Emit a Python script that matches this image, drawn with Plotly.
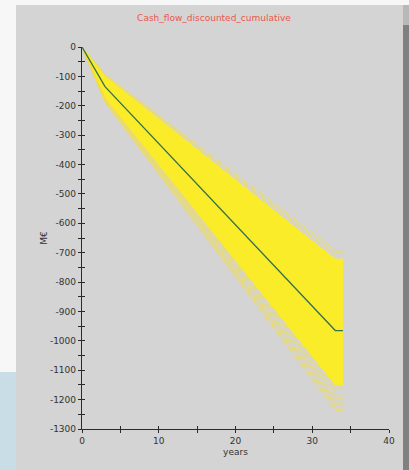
import plotly.graph_objects as go

# Time axis (years) and cumulative discounted cash flow paths (M€)
years = [0, 3, 33, 34]
mean_path = [0, -135, -965, -965]

# Dense core of the simulated fan: upper and lower bounding paths
core_upper = [0, -100, -722, -722]
core_lower = [0, -172, -1150, -1150]

# Individual outer simulation paths: (value at year 3, value at years 33-34)
outer_upper = [(-93, -690), (-95, -700), (-97, -710)]
outer_lower = [(-174, -1160), (-176, -1172), (-178, -1185), (-180, -1197),
               (-182, -1208), (-184, -1218), (-186, -1228), (-188, -1237)]

y_ticks = [0, -100, -200, -300, -400, -500, -600, -700, -800, -900,
           -1000, -1100, -1200, -1300]
y_labels = ["0", "-100", "-200", "-300", "-400", "-500", "-600", "-700",
            "-800", "-900", "-1000", "-1100", "-1200", "-1300"]
x_ticks = [0, 10, 20, 30, 40]
x_labels = ["0", "10", "20", "30", "40"]

W, H = 409, 470
ML, MR, MT, MB = 82, 20, 47, 41
PW, PH = W - ML - MR, H - MT - MB


def px_x(p):
    return (p - ML) / PW


def px_y(p):
    return (H - MB - p) / PH


YELLOW = "#fbec2a"
FAINT = "rgba(243, 222, 70, 0.7)"

fig = go.Figure()

fig.add_trace(go.Scatter(x=years, y=core_upper, mode="lines",
                         line=dict(color=YELLOW, width=1), hoverinfo="skip"))
fig.add_trace(go.Scatter(x=years, y=core_lower, mode="lines", fill="tonexty",
                         fillcolor=YELLOW, line=dict(color=YELLOW, width=1),
                         hoverinfo="skip"))

for knee, end in outer_upper + outer_lower:
    fig.add_trace(go.Scatter(x=years, y=[0, knee, end, end], mode="lines",
                             line=dict(color=FAINT, width=0.9), hoverinfo="skip"))

fig.add_trace(go.Scatter(x=years, y=mean_path, mode="lines",
                         line=dict(color="#33704f", width=1.3), hoverinfo="skip"))

# Inside halves of the crossing tick marks
fig.add_trace(go.Scatter(x=[None], y=[None], xaxis="x2", yaxis="y2",
                         showlegend=False, hoverinfo="skip"))

axis_font = dict(family="DejaVu Sans", size=9, color="#333333")

fig.update_layout(
    width=W, height=H,
    margin=dict(l=ML, r=MR, t=MT, b=MB),
    paper_bgcolor="#d4d4d4",
    plot_bgcolor="rgba(0,0,0,0)",
    showlegend=False,
    title=dict(text="Cash_flow_discounted_cumulative",
               font=dict(family="DejaVu Sans", size=9, color="#e8584e"),
               x=214 / W, xref="container", xanchor="center",
               y=1 - 18 / H, yref="container", yanchor="middle"),
    xaxis=dict(range=[0, 40], tickvals=x_ticks, ticktext=x_labels,
               showgrid=False, zeroline=False, showline=True,
               linecolor="#2b2b2b", linewidth=1.3,
               ticks="outside", ticklen=3, tickcolor="#2b2b2b", tickwidth=1,
               minor=dict(dtick=5, ticks="outside", ticklen=3,
                          tickcolor="#2b2b2b", showgrid=False),
               tickfont=axis_font,
               title=dict(text="years", font=axis_font, standoff=3)),
    yaxis=dict(range=[-1300, 0], tickvals=y_ticks, ticktext=y_labels,
               showgrid=False, zeroline=False, showline=True,
               linecolor="#2b2b2b", linewidth=1.3,
               ticks="outside", ticklen=3, tickcolor="#2b2b2b", tickwidth=1,
               minor=dict(dtick=50, ticks="outside", ticklen=3,
                          tickcolor="#2b2b2b", showgrid=False),
               tickfont=axis_font,
               title=dict(text="M€", font=axis_font, standoff=0)),
    xaxis2=dict(range=[0, 40], overlaying="x", side="bottom", dtick=5,
                ticks="inside", ticklen=3, tickcolor="#2b2b2b",
                showticklabels=False, showgrid=False, zeroline=False,
                showline=False, anchor="y2"),
    yaxis2=dict(range=[-1300, 0], overlaying="y", side="left", dtick=50,
                ticks="inside", ticklen=3, tickcolor="#2b2b2b",
                showticklabels=False, showgrid=False, zeroline=False,
                showline=False, anchor="x2"),
    shapes=[
        # white surround at top and left
        dict(type="rect", xref="paper", yref="paper", layer="below",
             x0=px_x(0), x1=px_x(W), y0=px_y(5), y1=px_y(0),
             fillcolor="#f7f7f7", line_width=0),
        dict(type="rect", xref="paper", yref="paper", layer="below",
             x0=px_x(0), x1=px_x(16), y0=px_y(372), y1=px_y(0),
             fillcolor="#f7f7f7", line_width=0),
        # light blue at the lower left
        dict(type="rect", xref="paper", yref="paper", layer="below",
             x0=px_x(0), x1=px_x(16), y0=px_y(H), y1=px_y(372),
             fillcolor="#c9dde7", line_width=0),
        # drop shadow on the right
        dict(type="rect", xref="paper", yref="paper", layer="below",
             x0=px_x(403), x1=px_x(W), y0=px_y(25), y1=px_y(5),
             fillcolor="#b8b8b8", line_width=0),
        dict(type="rect", xref="paper", yref="paper", layer="below",
             x0=px_x(403), x1=px_x(W), y0=px_y(H), y1=px_y(25),
             fillcolor="#808080", line_width=0),
    ],
)

fig.write_html("out.html")
